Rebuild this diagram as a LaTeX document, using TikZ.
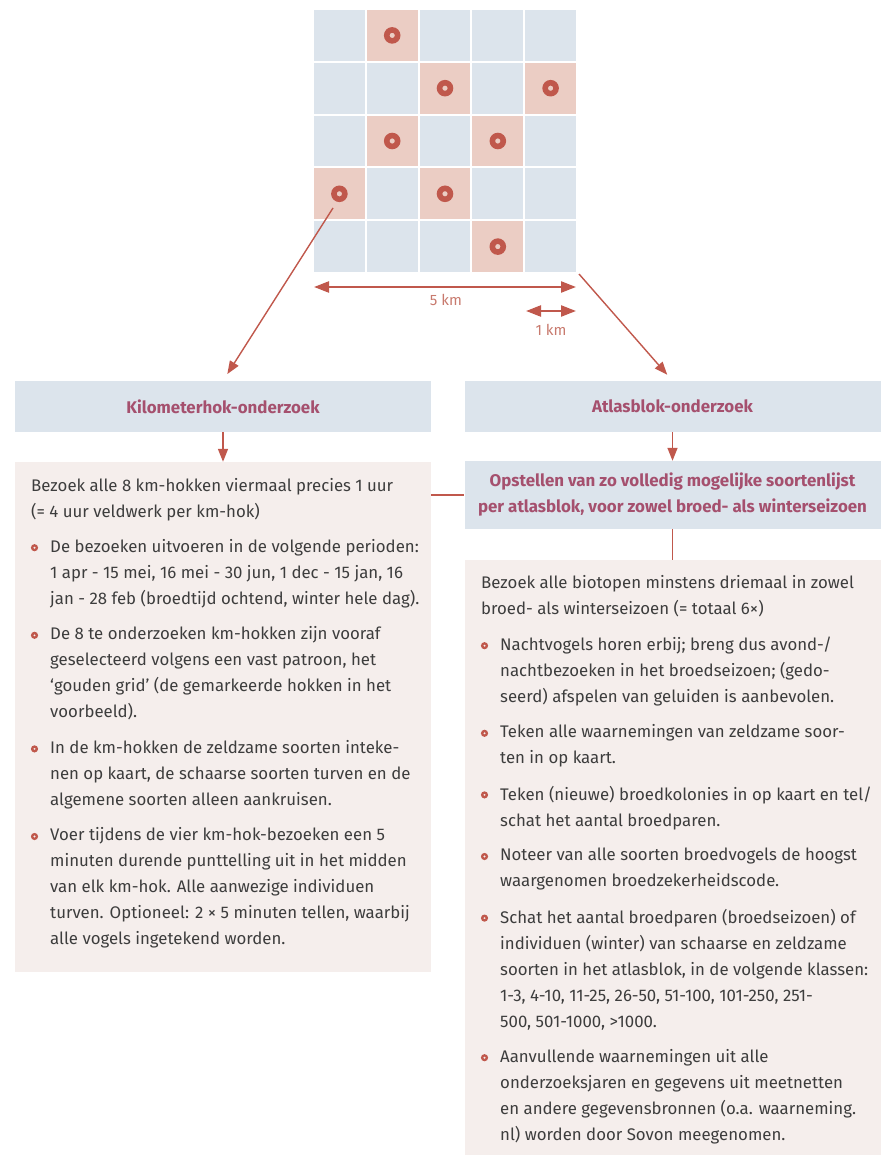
\documentclass[tikz,border=0pt]{standalone}
\usepackage{fontspec}
\setmainfont{Fira Sans}
\usetikzlibrary{arrows.meta, positioning}

\definecolor{cellblue}{HTML}{DCE4EC}
\definecolor{cellpink}{HTML}{EBCDC4}
\definecolor{boxpink}{HTML}{F5EEEC}
\definecolor{ringred}{HTML}{C0584C}
\definecolor{hdrtext}{HTML}{A5506E}
\definecolor{lblred}{HTML}{C87A6E}
\definecolor{textgray}{HTML}{3D3D3D}

\newcommand\bodysize{\fontsize{16.8}{26}\selectfont}

\tikzset{
  hdr/.style={fill=cellblue, text=hdrtext, font=\bfseries\fontsize{16.9}{26}\selectfont, minimum width=416pt, align=center, inner sep=0pt},
  panel/.style={fill=boxpink, minimum width=416pt, inner sep=0pt},
  txt/.style={anchor=north west, align=left, inner sep=0pt, text=textgray, font=\bodysize},
  link/.style={draw=ringred, line width=1.4pt, -{Triangle[length=13pt,width=10pt]}},
  plain/.style={draw=ringred, line width=1.4pt},
  scalearr/.style={draw=ringred, line width=2.3pt, {Triangle[length=15pt,width=11pt]}-{Triangle[length=15pt,width=11pt]}},
  scalelbl/.style={text=lblred, font=\fontsize{15}{17}\selectfont, inner sep=0pt},
  bul/.style={fill=ringred, even odd rule},
  spot/.style={fill=ringred, even odd rule},
}

\begin{document}
\begin{tikzpicture}[x=1pt, y=-1pt]
\useasboundingbox (0,0) rectangle (883,1155);

% grid of km-squares
\foreach \r in {0,...,4}
  \foreach \c in {0,...,4}
    \fill[cellblue] ({314+52.8*\c},{10+52.8*\r}) rectangle ++(50.8,50.8);
\foreach \c/\r in {1/0,2/1,4/1,1/2,3/2,0/3,2/3,3/4} {
  \fill[cellpink] ({314+52.8*\c},{10+52.8*\r}) rectangle ++(50.8,50.8);
  \fill[spot] ({339.4+52.8*\c},{35.4+52.8*\r}) circle (8.3pt) circle (2.7pt);
}

% scale bars
\coordinate (w5) at (314,287);
\coordinate (e5) at (576,287);
\coordinate (w1) at (526,311);
\coordinate (e1) at (576,311);
\draw[scalearr] (w5) -- (e5);
\draw[scalearr] (w1) -- (e1);
\node[scalelbl] (lbl5) at (446,300) {5 km};
\node[scalelbl] (lbl1) at (551,330) {1 km};

% headers
\node[hdr, minimum height=51pt] (khead) at (223,406.5) {Kilometerhok-onderzoek};
\node[hdr, minimum height=51pt] (ahead) at (672.5,406.5) {Atlasblok-onderzoek};
\node[hdr, minimum height=68pt] (ablok) at (672.5,495) {Opstellen van zo volledig mogelijke soortenlijst\\[0pt]per atlasblok, voor zowel broed- als winterseizoen};

% panels
\node[panel, minimum height=510pt] (kpanel) at (223,717) {};
\node[panel, minimum height=595pt] (apanel) at (672.5,857.5) {};

% connectors
\coordinate (src1) at (333,208);
\coordinate (src2) at (579,274);
\draw[link, shorten >=8pt] (src1) -- (khead.north);
\draw[link, shorten >=8pt] (src2) -- (ahead.north);
\draw[link] (khead.south) -- (kpanel.north);
\draw[link] (ahead.south) -- (ablok.north);
\draw[plain] (ablok.south) -- (apanel.north);
\draw[plain] (kpanel.east |- ablok.west) -- (ablok.west);

% km-square text
\node[txt] (kintro) at (31,477.8) {Bezoek alle 8 km-hokken viermaal precies 1 uur\\(= 4 uur veldwerk per km-hok)};
\node[txt] (k1) at (50,538.8) {De bezoeken uitvoeren in de volgende perioden:\\1 apr - 15 mei, 16 mei - 30 jun, 1 dec - 15 jan, 16\\jan - 28 feb (broedtijd ochtend, winter hele dag).};
\node[txt] (k2) at (50,626.4) {De 8 te onderzoeken km-hokken zijn vooraf\\geselecteerd volgens een vast patroon, het\\‘gouden grid’ (de gemarkeerde hokken in het\\voorbeeld).};
\node[txt] (k3) at (50,740) {In de km-hokken de zeldzame soorten inteke-\\nen op kaart, de schaarse soorten turven en de\\algemene soorten alleen aankruisen.};
\node[txt] (k4) at (50,827.6) {Voer tijdens de vier km-hok-bezoeken een 5\\minuten durende punttelling uit in het midden\\van elk km-hok. Alle aanwezige individuen\\turven. Optioneel: 2 × 5 minuten tellen, waarbij\\alle vogels ingetekend worden.};

% atlas block text
\node[txt] (aintro) at (481,574.8) {Bezoek alle biotopen minstens driemaal in zowel\\broed- als winterseizoen (= totaal 6×)};
\node[txt] (a1) at (500,636.8) {Nachtvogels horen erbij; breng dus avond-/\\nachtbezoeken in het broedseizoen; (gedo-\\seerd) afspelen van geluiden is aanbevolen.};
\node[txt] (a2) at (500,724.4) {Teken alle waarnemingen van zeldzame soor-\\ten in op kaart.};
\node[txt] (a3) at (500,786) {Teken (nieuwe) broedkolonies in op kaart en tel/\\schat het aantal broedparen.};
\node[txt] (a4) at (500,847.6) {Noteer van alle soorten broedvogels de hoogst\\waargenomen broedzekerheidscode.};
\node[txt] (a5) at (500,909.2) {Schat het aantal broedparen (broedseizoen) of\\individuen (winter) van schaarse en zeldzame\\soorten in het atlasblok, in de volgende klassen:\\1-3, 4-10, 11-25, 26-50, 51-100, 101-250, 251-\\500, 501-1000, >1000.};
\node[txt] (a6) at (500,1048.8) {Aanvullende waarnemingen uit alle\\onderzoeksjaren en gegevens uit meetnetten\\en andere gegevensbronnen (o.a. waarneming.\\nl) worden door Sovon meegenomen.};

% bullets
\foreach \n in {k1,k2,k3,k4,a1,a2,a3,a4,a5,a6}
  \fill[bul] ([shift={(-15.5pt,-8.9pt)}]\n.north west) circle (3.6pt) circle (1.3pt);
\end{tikzpicture}
\end{document}
